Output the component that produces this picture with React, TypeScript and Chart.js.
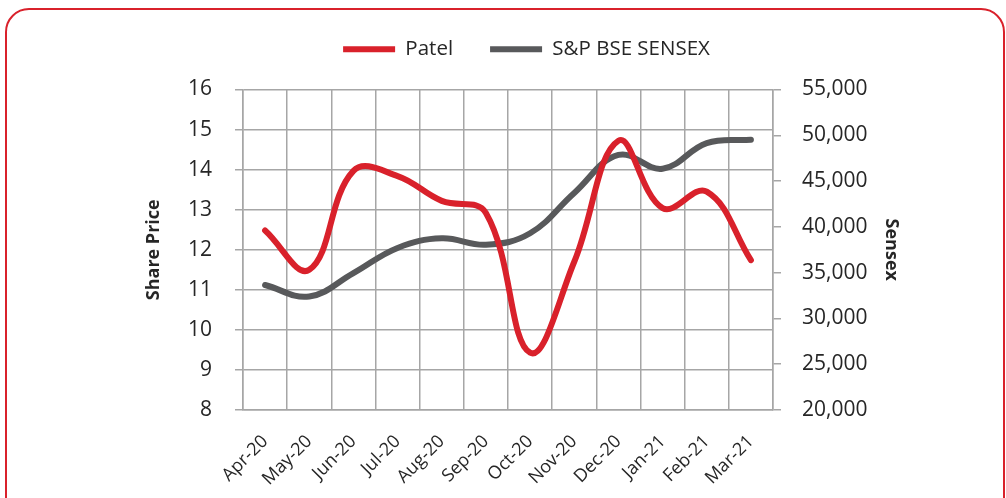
import React, { useEffect, useRef } from "react";
import { Chart, registerables } from "chart.js";

Chart.register(...registerables);

const months = ["Apr-20", "May-20", "Jun-20", "Jul-20", "Aug-20", "Sep-20", "Oct-20", "Nov-20", "Dec-20", "Jan-21", "Feb-21", "Mar-21"];
const patel = [12.48, 11.5, 13.97, 13.84, 13.22, 12.92, 9.43, 11.7, 14.72, 13.04, 13.45, 11.74];
const sensex = [33650, 32400, 34950, 37700, 38750, 38050, 39300, 43700, 47850, 46350, 49150, 49520];
const leftTicks = { min: 8, max: 16, step: 1 };
const rightTicks = { min: 20000, max: 55000, step: 5000 };

const RED = "#d9212b";
const GRAY = "#58595b";
const GRID = "#a6a6a6";
const TEXT = "#262626";
const FONT = "'Open Sans', sans-serif";

const legendMargin = {
  id: "legendMargin",
  beforeInit(chart: any) {
    const orig = chart.legend.fit;
    chart.legend.fit = function fit() {
      orig.bind(chart.legend)();
      this.height += 20;
    };
  },
};

export default function App() {
  const ref = useRef<HTMLCanvasElement | null>(null);
  useEffect(() => {
    if (!ref.current) return;
    const chart = new Chart(ref.current, {
      type: "line",
      data: {
        labels: months,
        datasets: [
          { label: "Patel", data: patel, borderColor: RED, backgroundColor: RED, borderWidth: 6, pointRadius: 0, tension: 0.4, yAxisID: "y", borderCapStyle: "round" },
          { label: "S&P BSE SENSEX", data: sensex, borderColor: GRAY, backgroundColor: GRAY, borderWidth: 6, pointRadius: 0, tension: 0.4, yAxisID: "y1", borderCapStyle: "round" },
        ],
      },
      plugins: [legendMargin],
      options: {
        responsive: false,
        animation: false,
        layout: { padding: { left: 143, right: 96, top: 2, bottom: 0 } },
        plugins: {
          tooltip: { enabled: false },
          legend: {
            position: "top",
            labels: {
              font: { family: FONT, size: 20.5 },
              color: TEXT,
              boxWidth: 52,
              boxHeight: 6,
              padding: 37,
              useBorderRadius: true,
              borderRadius: 3,
              generateLabels: (c: any) =>
                c.data.datasets.map((d: any, i: number) => ({
                  text: d.label,
                  fillStyle: d.borderColor,
                  strokeStyle: d.borderColor,
                  lineWidth: 0,
                  fontColor: TEXT,
                  datasetIndex: i,
                  hidden: false,
                })),
            },
          },
        },
        scales: {
          x: {
            offset: true,
            grid: { offset: true, color: GRID, lineWidth: 1.5, drawTicks: false },
            border: { color: GRID, width: 1.5 },
            ticks: { maxRotation: 45, minRotation: 45, autoSkip: false, font: { family: FONT, size: 18 }, color: TEXT, padding: 21 },
            afterFit: (s: any) => { s.height = 88; },
          },
          y: {
            position: "left",
            min: leftTicks.min,
            max: leftTicks.max,
            ticks: { stepSize: leftTicks.step, padding: 23, font: { family: FONT, size: 21 }, color: TEXT },
            grid: { color: GRID, lineWidth: 1.5, tickLength: 8 },
            border: { color: GRID, width: 1.5 },
            title: { display: true, text: "Share Price", font: { family: FONT, size: 18, weight: "bold" }, color: TEXT, padding: 0 },
            afterFit: (s: any) => { s.width = 100; },
          },
          y1: {
            position: "right",
            min: rightTicks.min,
            max: rightTicks.max,
            ticks: { stepSize: rightTicks.step, padding: 21, font: { family: FONT, size: 21 }, color: TEXT, callback: (v: any) => Number(v).toLocaleString("en-US") },
            grid: { drawOnChartArea: false, color: GRID, lineWidth: 1.5, tickLength: 8 },
            border: { color: GRID, width: 1.5 },
            title: { display: true, text: "Sensex", font: { family: FONT, size: 18, weight: "bold" }, color: TEXT, padding: { top: 8, bottom: 0 } },
            afterFit: (s: any) => { s.width = 137; },
          },
        },
      },
    } as any);
    return () => chart.destroy();
  }, []);
  return (
    <div>
      <canvas ref={ref} width={1006} height={498} style={{ position: "fixed", left: 0, top: 0, width: 1006, height: 498 }} />
      <div style={{ position: "fixed", left: 5, top: 8, width: 1000, height: 540, border: "2px solid #d9212b", borderRadius: 24, pointerEvents: "none", boxSizing: "border-box" }} />
    </div>
  );
}
